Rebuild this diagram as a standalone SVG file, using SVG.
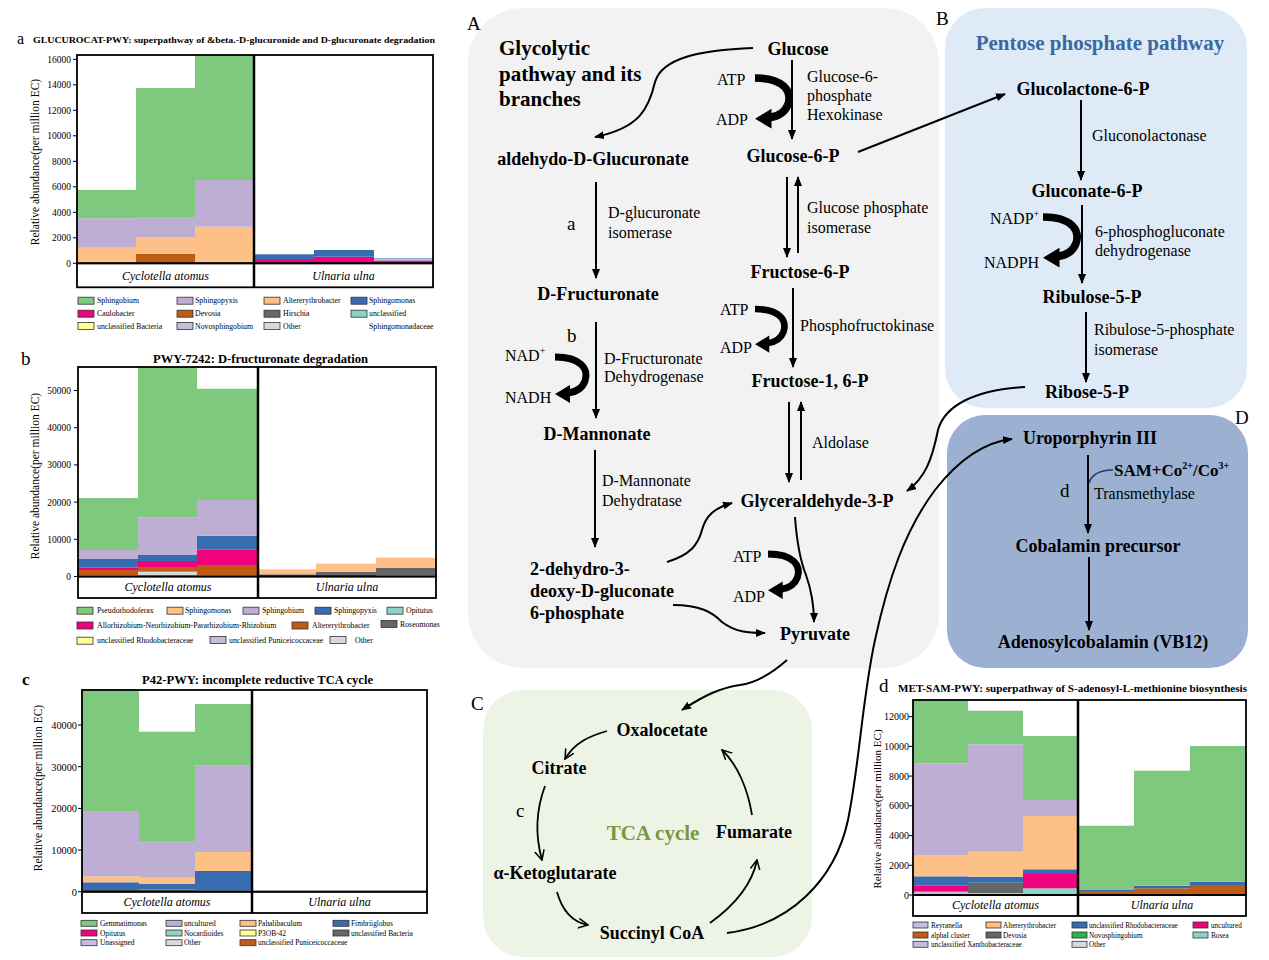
<svg xmlns="http://www.w3.org/2000/svg" width="1269" height="960" viewBox="0 0 1269 960">
<style>
text{font-family:"Liberation Serif","Times New Roman",serif;fill:#000}
.n{font-weight:bold;font-size:18px;text-anchor:middle}
.e{font-size:16px}
.hd{font-weight:bold;font-size:21px}
.pl{font-size:19px}
.sl{font-size:19px}
.tk{text-anchor:end}
.ax{font-size:11.5px;text-anchor:middle}
.st{font-size:12px;font-style:italic;text-anchor:middle}
.tt{font-weight:bold}
.fr{fill:none;stroke:#000;stroke-width:1.8}
.dv{stroke:#000;stroke-width:2.5}
.tkl{stroke:#000;stroke-width:1}
.ar{fill:none;stroke:#000;stroke-width:2;marker-end:url(#ah)}
.oa{fill:none;stroke:#000;stroke-width:1.8;marker-end:url(#oh)}
.sw rect{stroke:#333;stroke-width:0.8}
.cg{fill:#7fc97f}.cp{fill:#beaed4}.co{fill:#fdc086}.cy{fill:#ffff99}.cb{fill:#386cb0}.ck{fill:#f0027f}.cr{fill:#bf5b17}.cgr{fill:#666666}.cq{fill:#8dd3c7}.cl{fill:#d9d9d9}.cv{fill:#c4bddd}.cn{fill:#2cb34a}.cu{fill:#86aede}
</style>
<defs>
<marker id="ah" viewBox="0 0 10 8" refX="9" refY="4" markerWidth="5" markerHeight="4" orient="auto" markerUnits="strokeWidth"><path d="M0,0 L10,4 L0,8 z" fill="#000"/></marker>
<marker id="oh" viewBox="0 0 10 10" refX="9" refY="5" markerWidth="6" markerHeight="6" orient="auto" markerUnits="strokeWidth"><path d="M0,0.5 L9,5 L0,9.5" fill="none" stroke="#000" stroke-width="1.4"/></marker>
<g id="cof"><path d="M0,0 C26,0 34,12 30,24 C27,32 21,35 13,36" fill="none" stroke="#000" stroke-width="7"/><polygon points="0,37 15,28 15,46" fill="#000"/></g>
</defs>
<rect width="1269" height="960" fill="#fff"/>

<!-- Panel backgrounds -->
<rect id="panel-A" x="468" y="8" width="471" height="660" rx="55" fill="#f2f2f2"/>
<rect id="panel-B" x="945" y="8" width="302" height="400" rx="40" fill="#deebf7"/>
<rect id="panel-D" x="947" y="415" width="301" height="253" rx="38" fill="#9cb0d2"/>
<rect id="panel-C" x="483" y="690" width="329" height="267" rx="40" fill="#edf4e6"/>
<text class="pl" x="467" y="30">A</text>
<text class="pl" x="936" y="25">B</text>
<text class="pl" x="471" y="710">C</text>
<text class="pl" x="1235" y="424">D</text>

<!-- ===== Chart a ===== -->
<g id="chart-a">
<text x="17" y="44" style="font-size:16px">a</text>
<text class="tt" x="33" y="43" style="font-size:9px" textLength="402" lengthAdjust="spacingAndGlyphs">GLUCUROCAT-PWY: superpathway of &amp;beta.-D-glucuronide and D-glucuronate degradation</text>
<rect class="co" x="77" y="247.7" width="59" height="15.6"/><rect class="cp" x="77" y="218.3" width="59" height="29.4"/><rect class="cg" x="77" y="190" width="59" height="28.3"/>
<rect class="cr" x="136" y="254" width="59" height="9.3"/><rect class="co" x="136" y="237" width="59" height="17"/><rect class="cp" x="136" y="217" width="59" height="20"/><rect class="cg" x="136" y="88" width="59" height="129"/>
<rect class="co" x="195" y="226.7" width="59" height="36.6"/><rect class="cp" x="195" y="180" width="59" height="46.7"/><rect class="cg" x="195" y="55" width="59" height="125"/>
<rect class="ck" x="254" y="259" width="60" height="4.3"/><rect class="cb" x="254" y="254.3" width="60" height="4.7"/>
<rect class="ck" x="314" y="256.7" width="60" height="6.6"/><rect class="cb" x="314" y="250" width="60" height="6.7"/>
<rect class="ck" x="374" y="260.5" width="59" height="2.8"/><rect class="cp" x="374" y="259.5" width="59" height="1"/><rect class="cu" x="374" y="258" width="59" height="1.5"/>
<rect class="fr" x="77" y="55" width="356" height="208.3"/>
<rect class="fr" x="77" y="263.3" width="356" height="24"/>
<line class="dv" x1="254" y1="55" x2="254" y2="287.3"/>
<path class="tkl" d="M73,263.3H77M73,237.8H77M73,212.3H77M73,186.8H77M73,161.3H77M73,135.8H77M73,110.3H77M73,84.8H77M73,59.3H77"/>
<g class="tk" style="font-size:9.5px">
<text x="71" y="266.8">0</text><text x="71" y="241.3">2000</text><text x="71" y="215.8">4000</text><text x="71" y="190.3">6000</text><text x="71" y="164.8">8000</text><text x="71" y="139.3">10000</text><text x="71" y="113.8">12000</text><text x="71" y="88.3">14000</text><text x="71" y="62.8">16000</text>
</g>
<text class="ax" transform="translate(39,162) rotate(-90)">Relative abundance(per million EC)</text>
<text class="st" x="165.5" y="280">Cyclotella atomus</text>
<text class="st" x="343.5" y="280">Ulnaria ulna</text>
<g class="sw" style="font-size:7.8px">
<rect class="cg" x="78" y="297.2" width="16" height="7"/><text x="97" y="303.4">Sphingobium</text>
<rect class="cp" x="177" y="297.2" width="16" height="7"/><text x="195" y="303.4">Sphingopyxis</text>
<rect class="co" x="264" y="297.2" width="16" height="7"/><text x="283" y="303.4">Altererythrobacter</text>
<rect class="cb" x="351" y="297.2" width="16" height="7"/><text x="369" y="303.4">Sphingomonas</text>
<rect class="ck" x="78" y="310.2" width="16" height="7"/><text x="97" y="316.4">Caulobacter</text>
<rect class="cr" x="177" y="310.2" width="16" height="7"/><text x="195" y="316.4">Devosia</text>
<rect class="cgr" x="264" y="310.2" width="16" height="7"/><text x="283" y="316.4">Hirschia</text>
<rect class="cq" x="351" y="310.2" width="16" height="7"/><text x="369" y="316.4">unclassified</text>
<text x="369" y="328.7">Sphingomonadaceae</text>
<rect class="cy" x="78" y="322.5" width="16" height="7"/><text x="97" y="328.7">unclassified Bacteria</text>
<rect class="cv" x="177" y="322.5" width="16" height="7"/><text x="195" y="328.7">Novosphingobium</text>
<rect class="cl" x="264" y="322.5" width="16" height="7"/><text x="283" y="328.7">Other</text>
</g>
</g>

<!-- ===== Chart b ===== -->
<g id="chart-b">
<text x="21" y="365" style="font-size:19px">b</text>
<text class="tt" x="153" y="363" style="font-size:12.5px" textLength="215" lengthAdjust="spacingAndGlyphs">PWY-7242: D-fructuronate degradation</text>
<rect class="cy" x="78" y="575" width="60" height="1.5"/><rect class="cr" x="78" y="570" width="60" height="5"/><rect class="ck" x="78" y="567.7" width="60" height="2.3"/><rect class="cb" x="78" y="559" width="60" height="8.7"/><rect class="cp" x="78" y="550" width="60" height="9"/><rect class="cg" x="78" y="498" width="60" height="52"/>
<rect class="cl" x="138" y="571.7" width="59" height="4.8"/><rect class="cr" x="138" y="567" width="59" height="4.7"/><rect class="ck" x="138" y="561" width="59" height="6"/><rect class="cb" x="138" y="555" width="59" height="6"/><rect class="cp" x="138" y="517.3" width="59" height="37.7"/><rect class="cg" x="138" y="367" width="59" height="150.3"/>
<rect class="cl" x="197" y="575" width="61" height="1.5"/><rect class="cr" x="197" y="565" width="61" height="10"/><rect class="ck" x="197" y="549.7" width="61" height="15.3"/><rect class="cb" x="197" y="535.7" width="61" height="14"/><rect class="cp" x="197" y="500" width="61" height="35.7"/><rect class="cg" x="197" y="388.7" width="61" height="111.3"/>
<rect class="cgr" x="258" y="574.3" width="58" height="2.2"/><rect class="co" x="258" y="569.3" width="58" height="5"/>
<rect class="cgr" x="316" y="572" width="60" height="4.5"/><rect class="co" x="316" y="563.7" width="60" height="8.3"/>
<rect class="cl" x="376" y="575" width="60" height="1.5"/><rect class="cgr" x="376" y="568" width="60" height="7"/><rect class="co" x="376" y="557.7" width="60" height="10.3"/>
<rect class="fr" x="78" y="367" width="358" height="209.5"/>
<rect class="fr" x="78" y="576.5" width="358" height="21.5"/>
<line class="dv" x1="258" y1="367" x2="258" y2="598"/>
<path class="tkl" d="M74,576.5H78M74,539.3H78M74,502.1H78M74,464.9H78M74,427.7H78M74,390.5H78"/>
<g class="tk" style="font-size:9.5px">
<text x="71" y="580">0</text><text x="71" y="542.8">10000</text><text x="71" y="505.6">20000</text><text x="71" y="468.4">30000</text><text x="71" y="431.2">40000</text><text x="71" y="394">50000</text>
</g>
<text class="ax" transform="translate(39,476) rotate(-90)">Relative abundance(per million EC)</text>
<text class="st" x="168" y="591">Cyclotella atomus</text>
<text class="st" x="347" y="591">Ulnaria ulna</text>
<g class="sw" style="font-size:7.8px">
<rect class="cg" x="77" y="607.2" width="16" height="7"/><text x="97" y="613.4">Pseudorhodoferax</text>
<rect class="co" x="167" y="607.2" width="16" height="7"/><text x="185" y="613.4">Sphingomonas</text>
<rect class="cp" x="243" y="607.2" width="16" height="7"/><text x="262" y="613.4">Sphingobium</text>
<rect class="cb" x="315" y="607.2" width="16" height="7"/><text x="334" y="613.4">Sphingopyxis</text>
<rect class="cq" x="387" y="607.2" width="16" height="7"/><text x="406" y="613.4">Opitutus</text>
<rect class="ck" x="77" y="622" width="16" height="7"/><text x="97" y="628.2">Allorhizobium-Neorhizobium-Pararhizobium-Rhizobium</text>
<rect class="cr" x="292" y="622" width="16" height="7"/><text x="312" y="628.2">Altererythrobacter</text>
<rect class="cgr" x="381" y="620.5" width="16" height="7"/><text x="400" y="626.7">Roseomonas</text>
<rect class="cy" x="77" y="637.2" width="16" height="7"/><text x="97" y="643.4">unclassified Rhodobacteraceae</text>
<rect class="cv" x="210" y="636.5" width="16" height="7"/><text x="229" y="642.7">unclassified Puniceicoccaceae</text>
<rect class="cl" x="330" y="636.5" width="16" height="7"/><text x="355" y="642.7">Other</text>
</g>
</g>

<!-- ===== Chart c ===== -->
<g id="chart-c">
<text class="tt" x="22" y="685" style="font-size:17px">c</text>
<text class="tt" x="142" y="684" style="font-size:12.5px" textLength="231" lengthAdjust="spacingAndGlyphs">P42-PWY: incomplete reductive TCA cycle</text>
<rect class="cgr" x="82" y="889" width="57" height="2.7"/><rect class="cb" x="82" y="882.3" width="57" height="6.7"/><rect class="co" x="82" y="876.3" width="57" height="6"/><rect class="cp" x="82" y="811" width="57" height="65.3"/><rect class="cg" x="82" y="690" width="57" height="121"/>
<rect class="cgr" x="139" y="889.5" width="56" height="2.2"/><rect class="cb" x="139" y="884" width="56" height="5.5"/><rect class="co" x="139" y="877.7" width="56" height="6.3"/><rect class="cp" x="139" y="841" width="56" height="36.7"/><rect class="cg" x="139" y="731.7" width="56" height="109.3"/>
<rect class="cgr" x="195" y="890.5" width="57" height="1.2"/><rect class="cb" x="195" y="871" width="57" height="19.5"/><rect class="co" x="195" y="852" width="57" height="19"/><rect class="cp" x="195" y="765.7" width="57" height="86.3"/><rect class="cg" x="195" y="704" width="57" height="61.7"/>
<rect class="fr" x="82" y="690" width="345" height="201.7"/>
<rect class="fr" x="82" y="891.7" width="345" height="21.3"/>
<line class="dv" x1="252" y1="690" x2="252" y2="913"/>
<path class="tkl" d="M78,891.7H82M78,850H82M78,808.4H82M78,766.7H82M78,725H82"/>
<g class="tk" style="font-size:10.3px">
<text x="77" y="895.5">0</text><text x="77" y="853.8">10000</text><text x="77" y="812.2">20000</text><text x="77" y="770.5">30000</text><text x="77" y="728.8">40000</text>
</g>
<text class="ax" transform="translate(42,788) rotate(-90)">Relative abundance(per million EC)</text>
<text class="st" x="167" y="906">Cyclotella atomus</text>
<text class="st" x="339.5" y="906">Ulnaria ulna</text>
<g class="sw" style="font-size:7.4px">
<rect class="cg" x="81" y="920.3" width="16" height="6"/><text x="100" y="925.9">Gemmatimonas</text>
<rect class="cp" x="166" y="920.3" width="16" height="6"/><text x="184" y="925.9">uncultured</text>
<rect class="co" x="240" y="920.3" width="16" height="6"/><text x="258" y="925.9">Pahalibaculum</text>
<rect class="cb" x="333" y="920.3" width="16" height="6"/><text x="351" y="925.9">Fimbriiglobus</text>
<rect class="ck" x="81" y="930" width="16" height="6"/><text x="100" y="935.6">Opitutus</text>
<rect class="cq" x="166" y="930" width="16" height="6"/><text x="184" y="935.6">Nocardioides</text>
<rect class="cy" x="240" y="930" width="16" height="6"/><text x="258" y="935.6">P3OB-42</text>
<rect class="cgr" x="333" y="930" width="16" height="6"/><text x="351" y="935.6">unclassified Bacteria</text>
<rect class="cv" x="81" y="939.7" width="16" height="6"/><text x="100" y="945.3">Unassigned</text>
<rect class="cl" x="166" y="939.7" width="16" height="6"/><text x="184" y="945.3">Other</text>
<rect class="cr" x="240" y="939.7" width="16" height="6"/><text x="258" y="945.3">unclassified Puniceicoccaceae</text>
</g>
</g>

<!-- ===== Chart d ===== -->
<g id="chart-d">
<text x="879" y="692" style="font-size:19px">d</text>
<text class="tt" x="898" y="692" style="font-size:10px" textLength="349" lengthAdjust="spacingAndGlyphs">MET-SAM-PWY: superpathway of S-adenosyl-L-methionine biosynthesis</text>
<rect class="cv" x="913" y="891.7" width="55" height="3.3"/><rect class="ck" x="913" y="885.7" width="55" height="6"/><rect class="cb" x="913" y="876.3" width="55" height="9.4"/><rect class="co" x="913" y="855" width="55" height="21.3"/><rect class="cp" x="913" y="763.3" width="55" height="91.7"/><rect class="cg" x="913" y="700" width="55" height="63.3"/>
<rect class="cv" x="968" y="893" width="55" height="2"/><rect class="cgr" x="968" y="882.7" width="55" height="10.3"/><rect class="cb" x="968" y="876.7" width="55" height="6"/><rect class="co" x="968" y="851.7" width="55" height="25"/><rect class="cp" x="968" y="744.3" width="55" height="107.4"/><rect class="cg" x="968" y="710.7" width="55" height="33.6"/>
<rect class="cq" x="1023" y="888.3" width="55" height="6.7"/><rect class="ck" x="1023" y="874" width="55" height="14.3"/><rect class="cb" x="1023" y="869.3" width="55" height="4.7"/><rect class="co" x="1023" y="816" width="55" height="53.3"/><rect class="cp" x="1023" y="800" width="55" height="16"/><rect class="cg" x="1023" y="736" width="55" height="64"/>
<rect class="cr" x="1078" y="891" width="56" height="4"/><rect class="cb" x="1078" y="889.5" width="56" height="1.5"/><rect class="cg" x="1078" y="825.7" width="56" height="63.8"/>
<rect class="cr" x="1134" y="888.3" width="56" height="6.7"/><rect class="cb" x="1134" y="885.7" width="56" height="2.6"/><rect class="cg" x="1134" y="770.7" width="56" height="115"/>
<rect class="cr" x="1190" y="885" width="56" height="10"/><rect class="cb" x="1190" y="881.7" width="56" height="3.3"/><rect class="cg" x="1190" y="746" width="56" height="135.7"/>
<rect class="fr" x="913" y="700" width="333" height="195"/>
<rect class="fr" x="913" y="895" width="333" height="21"/>
<line class="dv" x1="1078" y1="700" x2="1078" y2="916"/>
<path class="tkl" d="M909,895H913M909,865.3H913M909,835.6H913M909,805.8H913M909,776.1H913M909,746.4H913M909,716.7H913"/>
<g class="tk" style="font-size:10px">
<text x="909" y="898.5">0</text><text x="909" y="868.8">2000</text><text x="909" y="839.1">4000</text><text x="909" y="809.3">6000</text><text x="909" y="779.6">8000</text><text x="909" y="749.9">10000</text><text x="909" y="720.2">12000</text>
</g>
<text class="ax" style="font-size:11px" transform="translate(881,809) rotate(-90)">Relative abundance(per million EC)</text>
<text class="st" x="995.5" y="909">Cyclotella atomus</text>
<text class="st" x="1162" y="909">Ulnaria ulna</text>
<g class="sw" style="font-size:7.2px">
<rect class="cv" x="913" y="922" width="15" height="6"/><text x="931" y="927.6">Reyranella</text>
<rect class="co" x="986" y="922" width="15" height="6"/><text x="1003" y="927.6">Altererythrobacter</text>
<rect class="cb" x="1072" y="922" width="15" height="6"/><text x="1089" y="927.6">unclassified Rhodobacteraceae</text>
<rect class="ck" x="1193" y="922" width="15" height="6"/><text x="1211" y="927.6">uncultured</text>
<rect class="cr" x="913" y="932" width="15" height="6"/><text x="931" y="937.6">alphaI cluster</text>
<rect class="cgr" x="986" y="932" width="15" height="6"/><text x="1003" y="937.6">Devosia</text>
<rect class="cn" x="1072" y="932" width="15" height="6"/><text x="1089" y="937.6">Novosphingobium</text>
<rect class="cq" x="1193" y="932" width="15" height="6"/><text x="1211" y="937.6">Bosea</text>
<rect class="cv" x="913" y="941.3" width="15" height="6"/><text x="931" y="946.9">unclassified Xanthobacteraceae</text>
<rect class="cl" x="1072" y="941.3" width="15" height="6"/><text x="1089" y="946.9">Other</text>
</g>
</g>

<!-- ===== Connectors ===== -->
<g id="connectors">
<path class="ar" d="M753,48 C700,50 662,58 655,82 C649,108 640,128 595,137"/>
<line class="ar" x1="792" y1="60" x2="792" y2="139"/>
<line class="ar" x1="858" y1="152" x2="1005" y2="94"/>
<line class="ar" x1="787" y1="177" x2="787" y2="257"/>
<line class="ar" x1="798" y1="253" x2="798" y2="177"/>
<line class="ar" x1="596" y1="182" x2="596" y2="278"/>
<line class="ar" x1="793" y1="288" x2="793" y2="367"/>
<line class="ar" x1="596" y1="322" x2="596" y2="418"/>
<line class="ar" x1="789" y1="402" x2="789" y2="482"/>
<line class="ar" x1="801" y1="480" x2="801" y2="402"/>
<line class="ar" x1="595" y1="450" x2="595" y2="547"/>
<path class="ar" d="M667,562 C690,555 698,545 702,530 C706,515 715,508 732,503"/>
<path class="ar" d="M673,605 C700,605 712,612 722,622 C735,632 748,633 765,633"/>
<path class="ar" d="M795,517 C797,545 800,560 806,575 C812,592 814,605 814,622"/>
<path class="ar" d="M1025,387 C975,390 945,405 938,430 C932,460 925,478 907,491"/>
<path class="ar" d="M727,933 C790,925 835,880 848,820 C860,760 862,700 875,640 C888,580 905,530 935,490 C960,458 985,442 1012,439"/>
<path class="ar" d="M787,660 C770,675 755,683 740,685 C720,688 705,695 682,710"/>
<line class="ar" x1="1081" y1="100" x2="1081" y2="180"/>
<line class="ar" x1="1082" y1="205" x2="1082" y2="283"/>
<line class="ar" x1="1086" y1="312" x2="1086" y2="382"/>
<line class="ar" x1="1088" y1="455" x2="1088" y2="533"/>
<line class="ar" x1="1089" y1="557" x2="1089" y2="630"/>
<path d="M1089,483 C1092,474 1100,470 1113,470" fill="none" stroke="#1f3864" stroke-width="1.5"/>
<path class="oa" d="M607,731 C590,736 575,742 565,759"/>
<path class="oa" d="M545,786 C536,810 535,835 542,860"/>
<path class="oa" d="M557,892 C562,910 572,922 588,925"/>
<path class="oa" d="M710,923 C735,905 752,885 757,860"/>
<path class="oa" d="M752,815 C748,790 738,765 722,750"/>
<use href="#cof" transform="translate(755,78) scale(1.1)"/>
<use href="#cof" transform="translate(755,309) scale(0.95)"/>
<use href="#cof" transform="translate(555,357)"/>
<use href="#cof" transform="translate(768,554) scale(0.98)"/>
<use href="#cof" transform="translate(1043,217) scale(1.1)"/>
</g>

<!-- ===== Panel A nodes ===== -->
<g id="title-A"><text class="hd" x="499" y="55">Glycolytic</text><text class="hd" x="499" y="81">pathway and its</text><text class="hd" x="499" y="106">branches</text></g>
<g id="n-glucose"><text class="n" x="798" y="55">Glucose</text></g>
<g id="n-aldehydo"><text class="n" x="593" y="165">aldehydo-D-Glucuronate</text></g>
<g id="n-g6p"><text class="n" x="793" y="162">Glucose-6-P</text></g>
<g id="n-f6p"><text class="n" x="800" y="278">Fructose-6-P</text></g>
<g id="n-dfruct"><text class="n" x="598" y="300">D-Fructuronate</text></g>
<g id="n-f16p"><text class="n" x="810" y="387">Fructose-1, 6-P</text></g>
<g id="n-mann"><text class="n" x="597" y="440">D-Mannonate</text></g>
<g id="n-gap"><text class="n" x="817" y="507">Glyceraldehyde-3-P</text></g>
<g id="n-kdg"><text class="n" x="530" y="575" style="text-anchor:start">2-dehydro-3-</text><text class="n" x="530" y="597" style="text-anchor:start">deoxy-D-gluconate</text><text class="n" x="530" y="619" style="text-anchor:start">6-phosphate</text></g>
<g id="n-pyr"><text class="n" x="815" y="640">Pyruvate</text></g>
<g id="labels-A">
<text class="e" x="717" y="85">ATP</text><text class="e" x="716" y="125">ADP</text>
<text class="e" x="807" y="82">Glucose-6-</text><text class="e" x="807" y="101">phosphate</text><text class="e" x="807" y="120">Hexokinase</text>
<text class="e" x="807" y="213">Glucose phosphate</text><text class="e" x="807" y="233">isomerase</text>
<text class="sl" x="567" y="230">a</text>
<text class="e" x="608" y="218">D-glucuronate</text><text class="e" x="608" y="238">isomerase</text>
<text class="e" x="720" y="315">ATP</text><text class="e" x="720" y="353">ADP</text>
<text class="e" x="800" y="331">Phosphofructokinase</text>
<text class="sl" x="567" y="342">b</text>
<text class="e" x="505" y="361">NAD<tspan dy="-7" style="font-size:10px">+</tspan></text>
<text class="e" x="505" y="403">NADH</text>
<text class="e" x="604" y="364">D-Fructuronate</text><text class="e" x="604" y="382">Dehydrogenase</text>
<text class="e" x="812" y="448">Aldolase</text>
<text class="e" x="602" y="486">D-Mannonate</text><text class="e" x="602" y="506">Dehydratase</text>
<text class="e" x="733" y="562">ATP</text><text class="e" x="733" y="602">ADP</text>
</g>

<!-- ===== Panel B nodes ===== -->
<g id="title-B"><text x="1100" y="50" style="font-weight:bold;font-size:21px;text-anchor:middle;fill:#3a69a0">Pentose phosphate pathway</text></g>
<g id="n-glucolactone"><text class="n" x="1083" y="95">Glucolactone-6-P</text></g>
<g id="n-gluconate"><text class="n" x="1087" y="197">Gluconate-6-P</text></g>
<g id="n-ribulose"><text class="n" x="1092" y="303">Ribulose-5-P</text></g>
<g id="n-ribose"><text class="n" x="1087" y="398">Ribose-5-P</text></g>
<g id="labels-B">
<text class="e" x="1092" y="141">Gluconolactonase</text>
<text class="e" x="990" y="224">NADP<tspan dy="-7" style="font-size:10px">+</tspan></text>
<text class="e" x="984" y="268">NADPH</text>
<text class="e" x="1095" y="237">6-phosphogluconate</text><text class="e" x="1095" y="256">dehydrogenase</text>
<text class="e" x="1094" y="335">Ribulose-5-phosphate</text><text class="e" x="1094" y="355">isomerase</text>
</g>

<!-- ===== Panel D nodes ===== -->
<g id="n-uro"><text class="n" x="1090" y="444">Uroporphyrin III</text></g>
<g id="n-cobpre"><text class="n" x="1098" y="552">Cobalamin precursor</text></g>
<g id="n-vb12"><text class="n" x="1103" y="648">Adenosylcobalamin (VB12)</text></g>
<g id="labels-D">
<text x="1114" y="476" style="font-weight:bold;font-size:17px">SAM+Co<tspan dy="-7" style="font-size:10px">2+</tspan><tspan dy="7">/Co</tspan><tspan dy="-7" style="font-size:10px">3+</tspan></text>
<text class="sl" x="1060" y="497">d</text>
<text class="e" x="1094" y="499">Transmethylase</text>
</g>

<!-- ===== Panel C nodes ===== -->
<g id="n-oxa"><text class="n" x="662" y="736">Oxalocetate</text></g>
<g id="n-cit"><text class="n" x="559" y="774">Citrate</text></g>
<g id="n-akg"><text class="n" x="555" y="879">α-Ketoglutarate</text></g>
<g id="n-succ"><text class="n" x="652" y="939">Succinyl CoA</text></g>
<g id="n-fum"><text class="n" x="754" y="838">Fumarate</text></g>
<g id="title-C"><text x="653" y="840" style="font-weight:bold;font-size:21px;text-anchor:middle;fill:#76983f">TCA cycle</text></g>
<text class="sl" x="516" y="817">c</text>
</svg>
